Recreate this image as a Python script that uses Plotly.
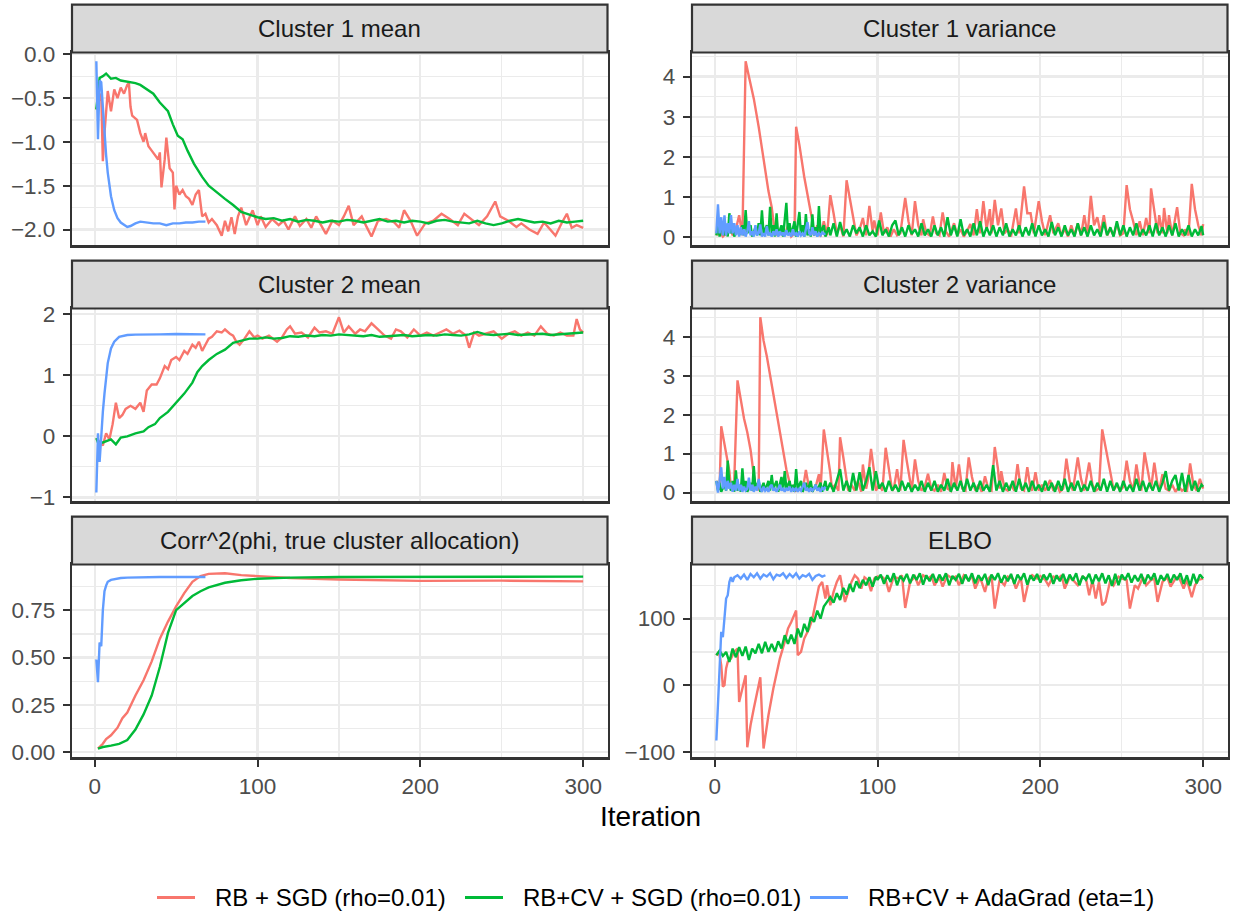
import plotly.graph_objects as go

# ---------------- data ----------------
SERIES_NAMES = ["RB + SGD (rho=0.01)", "RB+CV + SGD (rho=0.01)", "RB+CV + AdaGrad (eta=1)"]
SERIES_COLORS = ["#F8766D", "#00BA38", "#619CFF"]
PANEL_TITLES = ["Cluster 1 mean", "Cluster 1 variance", "Cluster 2 mean",
                "Cluster 2 variance", "Corr^2(phi, true cluster allocation)", "ELBO"]
X_TICKS = [0, 100, 200, 300]
X_MINOR = [50, 150, 250]
ITER_MIN, ITER_MAX = 1, 300

# Cluster 1 mean
M1_RED_X = [1,2,3,4,5,6,8,10,12,14,16,18,20,21,22,23,26,28,30,31,33,35,37,39,40,41,43,44,46,48,49,50,
            52,54,56,58,60,62,64,66,68,70,72,75,78,80,82,84,86,88,90,93,97,100,
            102,105,109,113,116,119,123,126,130,133,136,139,142,146,150,153,156,159,164,167,170,174,179,
            184,187,190,194,198,203,208,213,218,223,227,231,236,241,246,249,254,259,262,267,272,276,279,
            283,287,290,293,296,300]
M1_RED_Y = [-0.63,-0.55,-0.5,-0.45,-1.22,-0.9,-0.42,-0.65,-0.4,-0.5,-0.38,-0.45,-0.35,-0.33,-0.6,-0.7,
            -0.75,-0.9,-1.0,-0.9,-1.05,-1.1,-1.15,-1.2,-1.12,-1.52,-1.2,-0.95,-1.3,-1.35,-1.77,-1.5,
            -1.6,-1.55,-1.62,-1.65,-1.72,-1.6,-1.55,-1.85,-1.82,-1.92,-1.88,-1.95,-2.07,-1.9,-2.02,-1.86,
            -2.05,-1.85,-1.75,-1.95,-1.78,-1.95,
            -1.85,-1.97,-1.88,-1.95,-1.9,-2.0,-1.85,-1.96,-1.88,-1.98,-1.85,-1.95,-2.05,-1.9,-1.95,-1.85,
            -1.73,-1.95,-1.85,-1.97,-2.08,-1.9,-1.88,-1.92,-1.98,-1.78,-1.9,-2.07,-1.93,-1.9,-1.82,-1.88,
            -1.95,-1.82,-1.88,-1.95,-1.85,-1.68,-1.85,-1.9,-1.97,-1.93,-2.0,-2.05,-1.92,-1.98,-2.07,-1.92,
            -1.82,-1.98,-1.95,-1.98]
M1_GREEN_X = [1,3,5,7,10,13,16,20,25,28,32,36,40,45,48,51,54,57,61,66,70] + list(range(75, 301, 5))
M1_GREEN_Y = [-0.63,-0.27,-0.25,-0.22,-0.28,-0.27,-0.3,-0.31,
              -0.33,-0.35,-0.4,-0.45,-0.55,-0.65,-0.8,-0.93,-0.97,-1.1,-1.25,-1.4,-1.5,
              -1.58,-1.65,-1.72,-1.8,-1.83,-1.86,-1.88,-1.87,-1.9,-1.88,-1.91,-1.89,-1.9,-1.92,-1.9,
              -1.91,-1.89,-1.9,-1.92,-1.9,-1.88,-1.91,-1.9,-1.92,-1.9,-1.91,-1.93,-1.9,-1.89,-1.91,
              -1.92,-1.93,-1.9,-1.93,-1.95,-1.93,-1.9,-1.88,-1.9,-1.92,-1.91,-1.93,-1.9,-1.92,-1.91,-1.9]
M1_BLUE_X = [1,2,3,4,5,6,7,8,9,10,12,14,16,18,20,22,25,28,32,36,40,44,48,52,56,60,64,68]
M1_BLUE_Y = [-0.08,-0.97,-0.3,-0.32,-0.6,-0.9,-1.15,-1.35,-1.5,-1.62,-1.78,-1.87,-1.92,-1.95,-1.97,
             -1.96,-1.93,-1.91,-1.92,-1.93,-1.93,-1.95,-1.93,-1.93,-1.92,-1.92,-1.91,-1.91]

# Cluster 2 mean
M2_RED_X = [1,3,5,7,9,11,13,15,17,19,22,25,28,30,32,35,38,40,43,45,47,50,52,55,57,60,62,64,66,68,
            70,72,75,78,80,83,85,87,89,92,95,98,
            100,103,107,112,115,118,120,123,127,131,135,138,142,146,150,153,156,160,163,166,
            170,174,178,182,185,188,192,196,200,204,208,212,216,220,224,228,230,233,236,240,
            245,250,254,258,262,266,270,274,278,282,286,290,294,296,298,300]
M2_RED_Y = [-0.03,-0.1,-0.15,0.05,-0.05,0.2,0.55,0.3,0.35,0.45,0.5,0.45,0.55,0.4,0.75,0.85,0.85,0.95,
            1.15,1.1,1.25,1.3,1.25,1.4,1.35,1.5,1.45,1.55,1.4,1.5,1.6,1.63,1.72,1.7,1.75,1.68,1.65,1.55,
            1.5,1.6,1.72,1.62,
            1.65,1.6,1.65,1.55,1.62,1.75,1.8,1.68,1.7,1.62,1.78,1.7,1.72,1.68,1.95,1.7,1.8,1.68,1.75,1.72,
            1.85,1.75,1.65,1.6,1.75,1.72,1.62,1.75,1.65,1.7,1.65,1.7,1.75,1.68,1.73,1.65,1.45,1.7,1.65,1.68,
            1.72,1.6,1.68,1.72,1.65,1.7,1.65,1.8,1.68,1.65,1.7,1.65,1.65,1.92,1.75,1.7]
M2_GREEN_X = [1,2,5,8,10,13,16,20,25,30,33,37,40,45,50,55,60,63,66,70,75,80,85,90,95] + list(range(100, 301, 5))
M2_GREEN_Y = [-0.03,-0.1,-0.1,-0.07,-0.05,-0.13,-0.02,0.0,0.05,0.08,0.15,0.2,0.3,0.4,0.55,0.7,0.88,
              1.05,1.15,1.25,1.35,1.42,1.53,1.57,1.6,
              1.6,1.62,1.6,1.61,1.64,1.63,1.65,1.64,1.66,1.65,1.67,1.66,1.65,1.64,1.66,1.63,1.64,1.65,
              1.66,1.64,1.65,1.66,1.65,1.67,1.66,1.65,1.67,1.71,1.67,1.66,1.67,1.68,1.66,1.67,1.67,1.68,
              1.66,1.67,1.68,1.69,1.7]
M2_BLUE_X = [1,2,3,4,5,6,7,8,10,12,15,20,25,30,40,50,60,68]
M2_BLUE_Y = [-0.92,0.05,-0.42,0.05,0.4,0.7,1.0,1.2,1.44,1.55,1.63,1.66,1.665,1.67,1.67,1.675,1.67,1.67]

# Corr^2(phi, true cluster allocation)
C_RED_X = [2,5,7,10,14,17,20,25,30,35,40,45,50,55,60,65,70,80,90,100,120,150,200,250,270,300]
C_RED_Y = [0.02,0.045,0.07,0.09,0.13,0.18,0.21,0.3,0.38,0.48,0.6,0.69,0.77,0.84,0.9,0.93,0.942,0.945,
           0.935,0.93,0.92,0.912,0.905,0.906,0.905,0.902]
C_GREEN_X = [2,5,10,15,20,25,30,35,40,45,50,55,60,65,70,80,90,100,120,150,200,250,300]
C_GREEN_Y = [0.02,0.028,0.035,0.045,0.065,0.12,0.2,0.3,0.45,0.63,0.75,0.79,0.825,0.85,0.87,0.895,
             0.908,0.916,0.922,0.925,0.926,0.926,0.927]
C_BLUE_X = [1,2,3,4,5,6,7,8,10,13,16,20,30,40,50,60,68]
C_BLUE_Y = [0.49,0.37,0.58,0.56,0.75,0.85,0.88,0.9,0.91,0.915,0.92,0.922,0.925,0.925,0.925,0.924,0.925]

# ELBO
E_RED_X = [1,2,3,4,5,6,7,8,10,12,14,15,17,19,20,22,24,26,28,30,33,36,38,40,43,45,47,49,
           50,51,53,55,58,60,62,64,66,68,69,71,73,75,77,80,82,84,86,88,90,92,94,96,98,100,
           103,105,107,110,113,115,117,120,123,125,128,131,133,135,138,140,143,146,148,150,
           153,156,158,160,163,166,168,170,172,175,178,180,183,185,188,190,193,195,198,200,
           203,205,208,211,213,215,218,220,223,226,228,230,232,234,236,238,240,243,245,248,
           250,253,255,258,260,263,265,268,270,272,275,278,280,283,285,288,290,293,295,297,300]
E_RED_Y = [45,48,45,30,-2,0,25,35,40,50,55,-25,-5,15,-93,-60,-35,-10,12,-95,-45,-5,20,40,65,85,95,105,
           112,45,50,70,85,100,125,148,155,130,150,120,140,155,165,125,140,155,165,160,145,162,158,141,160,163,
           162,158,140,163,160,165,116,155,163,150,165,160,164,150,162,148,165,160,163,150,
           165,158,164,145,162,140,160,165,115,158,150,163,160,145,162,125,158,165,160,164,
           158,150,163,160,165,145,162,158,150,163,160,135,158,130,155,120,125,158,150,163,
           160,158,115,150,145,162,150,158,160,125,155,162,148,160,163,145,158,132,150,158,160]
E_GREEN_X = list(range(1, 100, 2)) + list(range(100, 301, 2))
E_GREEN_Y = [45,52,44,50,35,55,42,57,44,58,38,55,48,62,48,65,50,62,50,66,55,75,62,76,62,85,72,92,80,102,
             95,112,100,118,125,132,124,138,128,146,136,152,140,156,146,158,150,162,148,163,
             158,166,152,165,155,168,150,164,157,167,
             153,166,158,168,151,165,156,167,154,166,
             157,168,150,164,158,167,152,166,156,168,
             153,165,157,167,150,166,158,168,154,165,
             156,167,152,166,158,168,151,165,157,167,
             154,166,158,168,152,165,156,167,153,166,
             157,168,150,164,158,167,152,166,156,168,
             153,165,149,167,150,166,158,168,154,165,
             156,167,152,166,158,168,151,165,157,167,
             154,166,158,168,152,165,149,167,153,166,
             160]
E_BLUE_X = [1,2,3,4,5,6,7,8,9,10,11,12] + list(range(14, 69, 2))
E_BLUE_Y = [-83,-30,40,80,72,105,130,135,155,162,155,162,
            165,160,166,158,167,162,168,160,166,163,168,159,166,164,168,161,167,162,168,160,
            165,163,167,158,164,166,163,165]

# Cluster 1 variance
V1_RED_X = [1,3,5,7,9,11,13,15,17,19, 21,24,27,30,33,35,37,39,41,43, 45,47,49,50,52,55,58,60,61,63,
            65,67,69,71,73,75,77,79,81,83, 85,87,89,91,93,95,97,98,100,102,
            104,106,108,110,112,114,117,119,121,123, 125,127,128,130,132,134,136,138,140,142,
            144,147,149,151,153,155,157,159,161,163, 165,167,169,170,172,174,176,178,180,182,
            185,187,190,192,194,196,199,201,203,206, 208,211,213,215,217,219,221,223,225,227,
            229,231,233,235,237,239,241,243,245,247, 249,251,253,255,257,259,261,263,265,267,
            268,270,272,273,275,276,278,279,281,284, 286,288,289,291,293,295,297,299,300]
V1_RED_Y = [0.05,0.15,0.02,0.1,0.3,0.05,0.2,0.55,0.05,4.38, 4.0,3.45,2.75,1.9,1.15,0.75,0.1,0.05,0.2,0.05,
            0.3,0.02,0.1,2.75,2.3,1.5,0.8,0.4,0.05,0.3, 0.02,0.4,0.05,1.05,0.6,0.1,0.3,0.02,1.42,0.95,
            0.5,0.05,0.2,0.48,0.05,0.78,0.15,0.42,0.05,0.62, 0.1,0.25,0.02,0.2,0.05,0.1,0.98,0.4,0.05,0.9,
            0.3,0.05,0.45,0.1,0.05,0.52,0.1,0.05,0.62,0.15, 0.02,0.35,0.05,0.2,0.02,0.15,0.33,0.05,0.7,0.1,
            0.9,0.2,0.7,0.1,0.93,0.3,0.72,0.1,0.2,0.02, 0.72,0.1,1.27,0.6,0.6,0.1,0.9,0.4,0.05,0.55,
            0.1,0.35,0.05,0.2,0.02,0.3,0.05,0.35,0.05,0.55, 0.05,1.03,0.3,0.5,0.1,0.55,0.05,0.2,0.05,0.35,
            0.05,0.1,1.3,0.7,0.4,0.05,0.4,0.05,0.48,0.1, 1.22,0.7,0.1,0.55,0.1,0.73,0.1,0.55,0.05,0.75,
            0.1,0.05,0.2,0.05,1.33,0.7,0.3,0.05,0.33]
V1_GREEN_X = [1,2,3,5,6,7,8,9,10,11, 12,14,15,17,18,19,20,22,23,25, 26,27,28,29,30,32,33,34,35,36,
              37,38,39,41,42,44,45,46,47,49, 50,52,53,54,55,56,57,58,59,60, 61,62,63,64,65,67,68,70] \
             + list(range(71, 300, 2)) + [300]
V1_GREEN_Y = [0.05,0.3,0.02,0.4,0.05,0.3,0.02,0.6,0.1,0.35, 0.02,0.25,0.05,0.3,0.05,0.68,0.1,0.3,0.02,0.25,
              0.05,0.35,0.05,0.67,0.1,0.3,0.05,0.76,0.1,0.3, 0.02,0.6,0.05,0.3,0.02,0.86,0.1,0.35,0.05,0.4,
              0.02,0.63,0.05,0.3,0.02,0.58,0.05,0.2,0.02,0.57, 0.05,0.25,0.02,0.78,0.1,0.3,0.02,0.25,
              0.05,0.35,0.02,0.38,0.05,0.2,0.02,0.3,0.1,0.25,
              0.02,0.3,0.05,0.15,0.02,0.42,0.05,0.2,0.02,0.3,
              0.42,0.05,0.25,0.02,0.3,0.08,0.2,0.02,0.35,0.05,
              0.2,0.02,0.3,0.05,0.25,0.02,0.5,0.05,0.3,0.02,
              0.45,0.05,0.2,0.02,0.35,0.05,0.4,0.02,0.25,0.05,
              0.3,0.02,0.25,0.05,0.35,0.02,0.2,0.05,0.3,0.02,
              0.25,0.05,0.35,0.02,0.3,0.05,0.2,0.02,0.38,0.05,
              0.25,0.02,0.3,0.05,0.2,0.02,0.35,0.05,0.25,0.02,
              0.3,0.05,0.2,0.02,0.38,0.05,0.25,0.02,0.4,0.05,
              0.3,0.02,0.25,0.05,0.35,0.02,0.2,0.05,0.3,0.02,
              0.35,0.05,0.25,0.02,0.3,0.05,0.35,0.02,0.2,0.05,
              0.3,0.02,0.2,0.05,0.28,
              0.05]
V1_BLUE_X = list(range(1, 69))
V1_BLUE_Y = [0.1,0.82,0.1,0.5,0.05,0.55,0.05,0.35,0.1,0.55,
             0.1,0.35,0.05,0.3,0.02,0.25,0.05,0.2,0.02,0.15,
             0.4,0.05,0.15,0.02,0.3,0.05,0.1,0.32,0.02,0.1,
             0.02,0.28,0.05,0.1,0.02,0.15,0.05,0.2,0.02,0.15,
             0.05,0.12,0.02,0.18,0.05,0.1,0.02,0.2,0.05,0.1,
             0.02,0.15,0.05,0.1,0.02,0.2,0.38,0.1,0.05,0.25,
             0.05,0.15,0.02,0.1,0.05,0.12,0.08,0.1]

# Cluster 2 variance
V2_RED_X = [1,3,4,6,8,9,10,12,14,16, 18,20,22,24,25,26,27,28,30,32, 34,36,38,40,42,44,46,47,49,50,
            52,54,56,58,60,62,64,65,67,69, 71,72,74,76,77,79,81,82,84,86, 88,90,91,93,94,96,98,99,101,103,
            105,107,109,110,112,114,116,118,120,121, 123,125,127,129,131,133,135,137,139,141,
            143,145,146,148,150,152,154,156,158,160, 162,164,166,168,170,172,174,175,176,178,
            180,182,184,186,188,190,192,194,195,197, 199,201,203,206,208,210,212,214,216,218,
            220,223,225,227,230,232,234,236,238,240, 242,244,245,247,249,251,253,255,257,259,
            261,262,264,266,268,270,272,273,275,277, 279,281,283,285,287,289,290,292,294,296, 298,300]
V2_RED_Y = [0.3,0.1,1.7,1.25,0.75,0.55,0.1,0.3,2.88,2.4, 1.9,1.55,1.1,0.45,0.1,0.2,0.05,4.5,3.9,3.5,
            3.0,2.5,2.0,1.5,1.05,0.6,0.25,0.05,0.2,0.05, 0.1,0.05,0.58,0.1,0.05,0.15,0.47,0.05,1.62,1.1,
            0.5,0.1,0.2,0.05,1.42,0.9,0.3,0.05,0.2,0.05, 0.3,0.02,0.72,0.1,0.3,1.12,0.5,0.05,0.2,0.05,
            1.15,0.6,0.05,0.1,0.6,0.05,1.35,0.8,0.3,0.05, 0.85,0.3,0.05,0.15,0.48,0.1,0.05,0.2,0.02,0.5,
            0.1,0.05,0.78,0.1,0.72,0.1,0.05,0.9,0.4,0.05, 0.2,0.02,0.42,0.1,0.05,1.17,0.6,0.1,0.55,0.1,
            0.05,0.2,0.05,0.73,0.1,0.05,0.65,0.1,0.05,0.52, 0.05,0.2,0.05,0.32,0.05,0.2,0.02,0.1,0.87,0.3,
            0.05,0.9,0.35,0.05,0.77,0.2,0.05,0.1,1.62,1.2, 0.7,0.3,0.05,0.2,0.05,0.15,0.82,0.3,0.05,0.72,
            0.2,0.05,1.03,0.6,0.1,0.77,0.2,0.05,0.47,0.1, 0.05,0.2,0.02,0.15,0.05,0.1,0.02,0.75,0.2,0.05,
            0.35,0.1]
V2_GREEN_X = [1,2,3,4,6,7,8,9,10,11, 12,13,14,15,16,17,18,19,20,22, 23,24,25,27,28,30,31,33,34,35,
              36,38,39,41,42,43,44,46,47,48, 49,50,51,53,54,56,57,59,60,62, 63,65,66,68,69] \
             + list(range(71, 300, 2)) + [300]
V2_GREEN_Y = [0.3,0.05,0.25,0.02,0.2,0.05,0.82,0.2,0.05,0.3, 0.02,0.57,0.05,0.2,0.02,0.62,0.1,0.3,0.02,0.25,
              0.05,0.68,0.1,0.3,0.02,0.25,0.05,0.3,0.05,0.45, 0.1,0.3,0.02,0.4,0.05,0.55,0.1,0.3,0.05,0.2,
              0.02,0.6,0.1,0.3,0.02,0.25,0.05,0.3,0.02,0.2, 0.05,0.25,0.02,0.3,0.05,
              0.25,0.02,0.3,0.6,0.05,0.3,0.02,0.5,0.05,0.52,
              0.05,0.3,0.65,0.05,0.55,0.1,0.25,0.02,0.3,0.05,
              0.2,0.02,0.3,0.05,0.25,0.02,0.2,0.05,0.3,0.02,
              0.25,0.05,0.3,0.02,0.2,0.05,0.35,0.02,0.25,0.05,
              0.3,0.02,0.35,0.05,0.25,0.02,0.3,0.05,0.2,0.02,
              0.7,0.05,0.3,0.02,0.25,0.05,0.3,0.02,0.35,0.05,
              0.25,0.02,0.3,0.05,0.2,0.02,0.3,0.05,0.25,0.02,
              0.3,0.05,0.35,0.02,0.25,0.05,0.3,0.02,0.2,0.05,
              0.3,0.02,0.25,0.05,0.35,0.02,0.3,0.05,0.25,0.02,
              0.3,0.05,0.2,0.02,0.35,0.05,0.3,0.02,0.25,0.05,
              0.3,0.02,0.25,0.55,0.05,0.3,0.45,0.05,0.5,0.02,
              0.45,0.05,0.3,0.02,0.2,
              0.15]
V2_BLUE_X = list(range(1, 69))
V2_BLUE_Y = [0.3,0.0,0.3,0.65,0.1,0.4,0.05,0.3,0.1,0.25,
             0.02,0.2,0.05,0.35,0.05,0.2,0.02,0.15,0.05,0.1,
             0.38,0.05,0.2,0.02,0.15,0.05,0.35,0.1,0.02,0.15,
             0.05,0.1,0.02,0.15,0.2,0.05,0.1,0.02,0.1,0.2,
             0.05,0.1,0.02,0.12,0.05,0.15,0.02,0.1,0.05,0.12,
             0.02,0.1,0.05,0.15,0.25,0.05,0.1,0.02,0.12,0.05,
             0.1,0.2,0.05,0.1,0.02,0.12,0.08,0.15]

PANEL_DATA = [
    [(M1_RED_X, M1_RED_Y), (M1_GREEN_X, M1_GREEN_Y), (M1_BLUE_X, M1_BLUE_Y)],
    [(V1_RED_X, V1_RED_Y), (V1_GREEN_X, V1_GREEN_Y), (V1_BLUE_X, V1_BLUE_Y)],
    [(M2_RED_X, M2_RED_Y), (M2_GREEN_X, M2_GREEN_Y), (M2_BLUE_X, M2_BLUE_Y)],
    [(V2_RED_X, V2_RED_Y), (V2_GREEN_X, V2_GREEN_Y), (V2_BLUE_X, V2_BLUE_Y)],
    [(C_RED_X, C_RED_Y), (C_GREEN_X, C_GREEN_Y), (C_BLUE_X, C_BLUE_Y)],
    [(E_RED_X, E_RED_Y), (E_GREEN_X, E_GREEN_Y), (E_BLUE_X, E_BLUE_Y)],
]
Y_DTICK = [0.5, 1, 1, 1, 0.25, 100]
Y_FMT = [".1f", "d", "d", "d", ".2f", "d"]

for p, series in enumerate(PANEL_DATA):
    for s, (xs, ys) in enumerate(series):
        assert len(xs) == len(ys), (PANEL_TITLES[p], s, len(xs), len(ys))

# ---------------- layout (pixels) ----------------
W, H = 1233, 913
COL_X = [(72.0, 607.5), (692.0, 1227.5)]
ROW_Y = [(52.5, 245.3), (308.5, 501.3), (564.5, 757.3)]
STRIP_H = 47.8
BORDER = "#333333"
GRID = "#EBEBEB"
FONT = "Liberation Sans, Arial, sans-serif"
LINE_W = 2.4
# legend placement: (key start, key end, text start) in px, centre line y
LEGEND_POS = [(157, 195, 213), (465, 503, 521), (810, 848, 866)]
LEGEND_Y = 897.5

def px_x(v):
    return v / W

def px_y(v):
    return 1 - v / H

fig = go.Figure()
shapes, annotations = [], []
span = ITER_MAX - ITER_MIN
xrange_ = [ITER_MIN - 0.05 * span, ITER_MAX + 0.05 * span]

for p in range(6):
    row, col = p // 2, p % 2
    n = p + 1
    xa = "x" if n == 1 else f"x{n}"
    ya = "y" if n == 1 else f"y{n}"
    for s, (xs, ys) in enumerate(PANEL_DATA[p]):
        fig.add_trace(go.Scatter(
            x=xs, y=ys, mode="lines", name=SERIES_NAMES[s],
            line=dict(color=SERIES_COLORS[s], width=LINE_W),
            showlegend=False, xaxis=xa, yaxis=ya, hoverinfo="skip"))
    allv = [v for xs, ys in PANEL_DATA[p] for v in ys]
    lo, hi = min(allv), max(allv)
    pad = 0.05 * (hi - lo)
    bottom = (row == 2)
    x0, x1 = COL_X[col]
    y0, y1 = ROW_Y[row]
    dt = Y_DTICK[p]
    fig.layout[f"xaxis{'' if n == 1 else n}"] = dict(
        domain=[px_x(x0), px_x(x1)], range=xrange_, anchor=ya,
        showline=True, mirror=True, linecolor=BORDER, linewidth=2.2,
        showgrid=True, gridcolor=GRID, gridwidth=2.2, zeroline=False,
        tickmode="array", tickvals=X_TICKS,
        ticks="outside" if bottom else "", ticklen=7, tickwidth=2, tickcolor=BORDER,
        showticklabels=bottom, tickfont=dict(family=FONT, size=22.5, color="#4D4D4D"),
        minor=dict(tickmode="array", tickvals=X_MINOR, showgrid=True, gridcolor=GRID,
                   gridwidth=1.2, ticks=""),
        automargin=False, fixedrange=True)
    fig.layout[f"yaxis{'' if n == 1 else n}"] = dict(
        domain=[px_y(y1), px_y(y0)], range=[lo - pad, hi + pad], anchor=xa,
        showline=True, mirror=True, linecolor=BORDER, linewidth=2.2,
        showgrid=True, gridcolor=GRID, gridwidth=2.2, zeroline=False,
        tickmode="linear", tick0=0, dtick=dt, tickformat=Y_FMT[p],
        ticks="outside", ticklen=7, tickwidth=2, tickcolor=BORDER,
        tickfont=dict(family=FONT, size=22.5, color="#4D4D4D"), ticklabelstandoff=3,
        minor=dict(tickmode="linear", tick0=dt / 2, dtick=dt, showgrid=True,
                   gridcolor=GRID, gridwidth=1.2, ticks=""),
        automargin=False, fixedrange=True)
    # strip
    st_top = y0 - STRIP_H
    shapes.append(dict(type="rect", xref="paper", yref="paper",
                       x0=px_x(x0), x1=px_x(x1), y0=px_y(y0), y1=px_y(st_top),
                       fillcolor="#D9D9D9", line=dict(color=BORDER, width=2.2), layer="above"))
    annotations.append(dict(text=PANEL_TITLES[p], xref="paper", yref="paper",
                            x=px_x((x0 + x1) / 2), y=px_y((y0 + st_top) / 2),
                            xanchor="center", yanchor="middle", showarrow=False,
                            font=dict(family=FONT, size=24, color="#1A1A1A")))

annotations.append(dict(text="Iteration", xref="paper", yref="paper",
                        x=px_x(650), y=px_y(816), xanchor="center", yanchor="middle",
                        showarrow=False, font=dict(family=FONT, size=28, color="black")))

# legend (keys + labels)
for s, (k0, k1, t0) in enumerate(LEGEND_POS):
    shapes.append(dict(type="line", xref="paper", yref="paper",
                       x0=px_x(k0), x1=px_x(k1), y0=px_y(LEGEND_Y), y1=px_y(LEGEND_Y),
                       line=dict(color=SERIES_COLORS[s], width=LINE_W + 0.6)))
    annotations.append(dict(text=SERIES_NAMES[s], xref="paper", yref="paper",
                            x=px_x(t0), y=px_y(LEGEND_Y), xanchor="left", yanchor="middle",
                            showarrow=False, font=dict(family=FONT, size=24, color="black")))

fig.update_layout(
    width=W, height=H, margin=dict(l=0, r=0, t=0, b=0),
    paper_bgcolor="white", plot_bgcolor="white",
    font=dict(family=FONT, size=22, color="black"),
    shapes=shapes, annotations=annotations,
    showlegend=False,
)

fig.write_html("out.html", config={"displayModeBar": False, "staticPlot": True},
               post_script="document.body.style.margin='0px';document.body.style.overflow='hidden';")
